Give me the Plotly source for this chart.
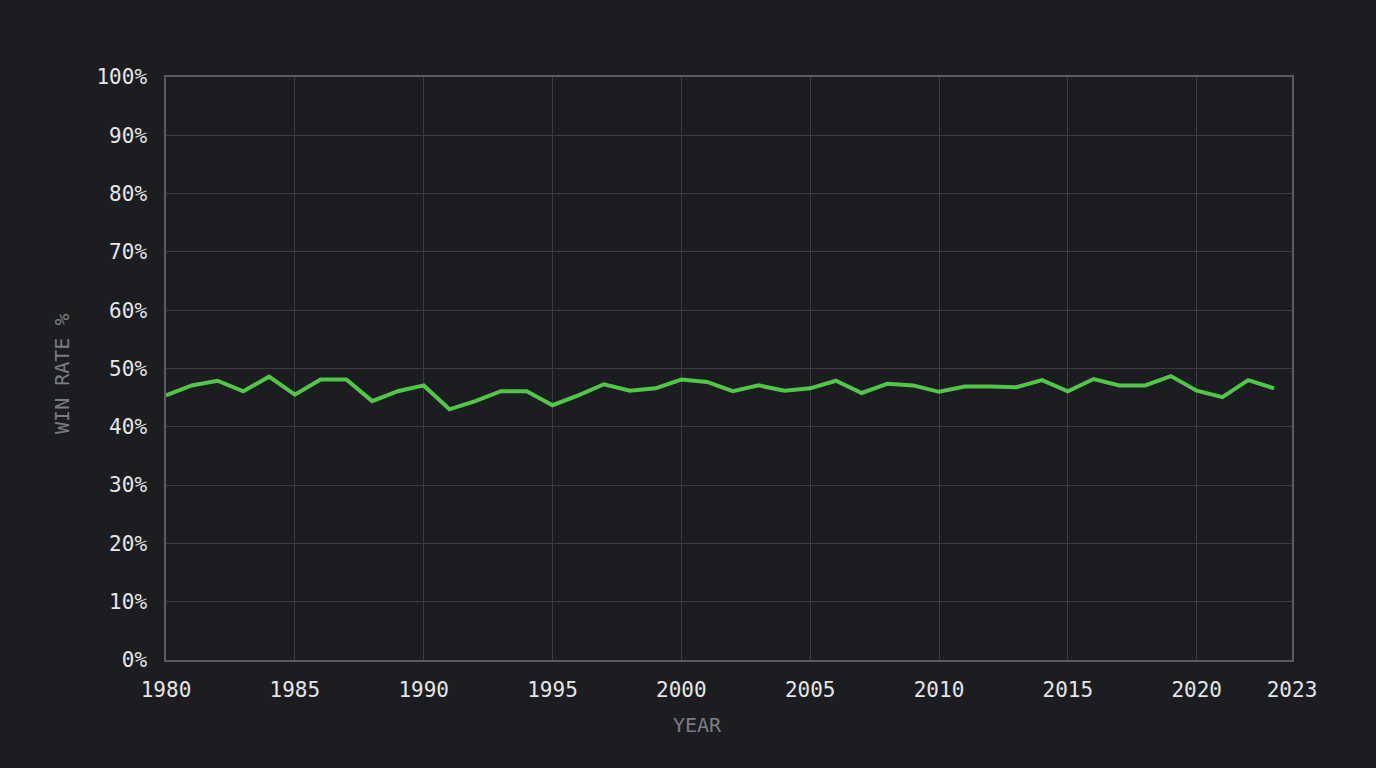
import plotly.graph_objects as go

years = list(range(1980, 2024))
win_rate = [45.4, 47.1, 47.9, 46.1, 48.6, 45.5, 48.1, 48.1, 44.4, 46.1,
            47.1, 43.0, 44.4, 46.1, 46.1, 43.7, 45.4, 47.3, 46.2, 46.6,
            48.1, 47.7, 46.1, 47.1, 46.2, 46.6, 47.9, 45.8, 47.4, 47.1,
            46.0, 46.9, 46.9, 46.8, 48.0, 46.1, 48.2, 47.1, 47.1, 48.7,
            46.2, 45.1, 48.0, 46.6]
x_ticks = [1980, 1985, 1990, 1995, 2000, 2005, 2010, 2015, 2020]
x_tick_labels = [str(v) for v in x_ticks]
y_ticks = list(range(0, 101, 10))
y_tick_labels = [f"{v}%" for v in y_ticks]

X_END = 2023.7
BG = "#1c1d21"
GRID = "#3a3c41"
FRAME = "#5a5c61"
FONT = "DejaVu Sans Mono"

fig = go.Figure()
fig.add_trace(go.Scatter(
    x=years, y=win_rate, mode="lines",
    line=dict(color="#52c648", width=4),
    hoverinfo="skip", showlegend=False,
))

fig.update_layout(
    width=1376, height=768,
    paper_bgcolor=BG, plot_bgcolor=BG,
    margin=dict(l=166, r=84, t=77, b=108),
    font=dict(family=FONT, color="#e6e6e6", size=20),
    xaxis=dict(
        range=[1980, X_END],
        tickvals=x_ticks + [X_END], ticktext=x_tick_labels + ["2023"],
        showgrid=True, gridcolor=GRID, gridwidth=1,
        showline=True, linecolor=FRAME, linewidth=1.5, mirror=True,
        zeroline=False, ticks="", ticklabelstandoff=10,
        tickfont=dict(family=FONT, size=21, color="#e6e6e6"),
    ),
    yaxis=dict(
        range=[0, 100],
        tickvals=y_ticks, ticktext=y_tick_labels,
        showgrid=True, gridcolor=GRID, gridwidth=1,
        showline=True, linecolor=FRAME, linewidth=1.5, mirror=True,
        zeroline=False, ticks="", ticklabelstandoff=13,
        tickfont=dict(family=FONT, size=21, color="#e6e6e6"),
    ),
    annotations=[
        dict(text="YEAR", xref="paper", yref="paper", x=0.4716, y=-0.111,
             xanchor="center", yanchor="middle", showarrow=False,
             font=dict(family=FONT, size=20, color="#7b7d82")),
        dict(text="WIN RATE %", xref="paper", yref="paper", x=-0.0924, y=0.4906,
             xanchor="center", yanchor="middle", showarrow=False, textangle=-90,
             font=dict(family=FONT, size=20, color="#7b7d82")),
    ],
)

fig.write_html("out.html")
